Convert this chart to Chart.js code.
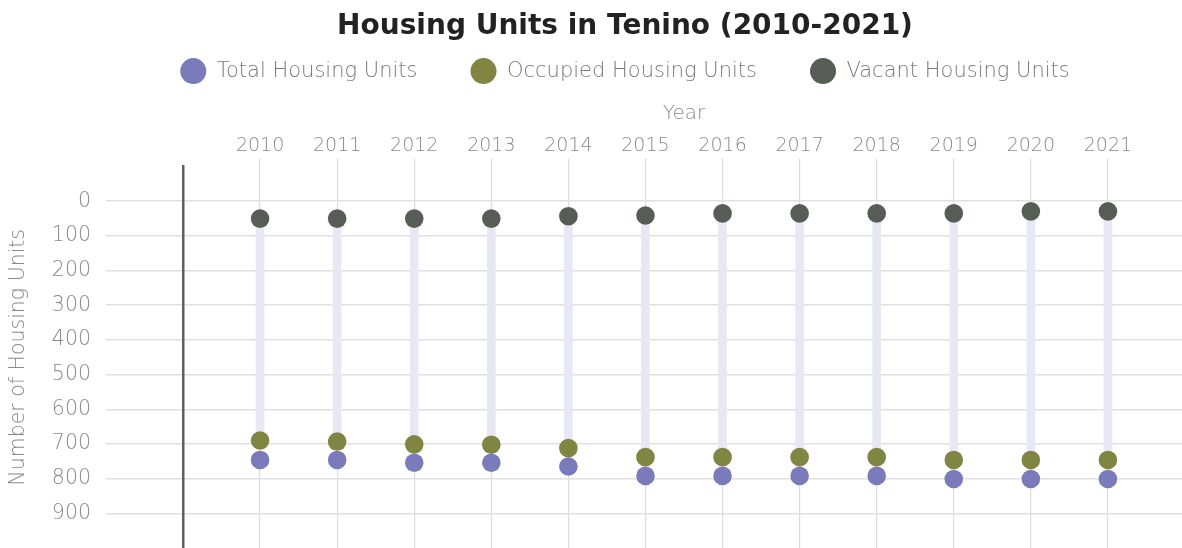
<!DOCTYPE html>
<html>
<head>
<meta charset="utf-8">
<title>Housing Units in Tenino (2010-2021)</title>
<script src="https://cdn.jsdelivr.net/npm/chart.js@4.4.1/dist/chart.umd.min.js"></script>
<style>
  html, body { margin: 0; padding: 0; overflow: hidden; background: #ffffff; }
  #wrap { width: 1182px; height: 548px; overflow: hidden; }
  canvas { display: block; }
</style>
</head>
<body>
<div id="wrap"><canvas id="chart" width="1250" height="548"></canvas></div>
<script>
// Housing units in Tenino, 2010-2021
const years = [2010, 2011, 2012, 2013, 2014, 2015, 2016, 2017, 2018, 2019, 2020, 2021];
const totalUnits    = [746, 746, 754, 754, 765, 792, 792, 792, 792, 801, 801, 801];
const occupiedUnits = [690, 693, 701, 702, 712, 738, 738, 738, 738, 746, 746, 746];
const vacantUnits   = [50, 50, 50, 50, 43, 41, 35, 35, 35, 35, 29, 29];
const yTickValues   = [0, 100, 200, 300, 400, 500, 600, 700, 800, 900];

const FONT = "'DejaVu Sans', 'Open Sans', sans-serif";
const TEXT_GREY = '#8a8a8a';
const LIGHT = { family: FONT, size: 19, weight: '200' };

const pts = (vals) => years.map((yr, i) => ({ x: yr, y: vals[i] }));
const span = years.map((yr, i) => ({ x: yr, y: [vacantUnits[i], occupiedUnits[i]] }));

function scatterSet(label, vals, color) {
  return {
    type: 'scatter',
    label,
    data: pts(vals),
    backgroundColor: color,
    borderColor: color,
    pointRadius: 9.3,
    pointHoverRadius: 9.3,
    borderWidth: 0,
    order: 1
  };
}

new Chart(document.getElementById('chart'), {
  type: 'scatter',
  data: {
    datasets: [
      scatterSet('Total Housing Units', totalUnits, '#7b7bbb'),
      scatterSet('Occupied Housing Units', occupiedUnits, '#808541'),
      scatterSet('Vacant Housing Units', vacantUnits, '#565d55'),
      {
        type: 'bar',
        label: 'range',
        data: span,
        backgroundColor: '#e8e8f4',
        borderWidth: 0,
        barThickness: 8,
        order: 10
      }
    ]
  },
  options: {
    responsive: false,
    animation: false,
    layout: { padding: 0, autoPadding: false },
    plugins: {
      title: {
        display: true,
        text: 'Housing Units in Tenino (2010-2021)',
        color: '#222222',
        font: { family: FONT, size: 28, weight: '700' },
        padding: { top: 10, bottom: -36 }
      },
      legend: {
        display: true,
        maxHeight: 83,
        labels: {
          usePointStyle: true,
          pointStyle: 'circle',
          boxHeight: 18.4,
          pointStyleWidth: 26,
          padding: 53,
          color: '#7a7a7a',
          font: { family: FONT, size: 21, weight: '200' },
          filter: (item) => item.datasetIndex !== 3
        }
      },
      tooltip: { enabled: false }
    },
    scales: {
      x: {
        type: 'linear',
        position: 'top',
        min: 2009,
        max: 2022,
        offset: false,
        afterBuildTicks: (scale) => {
          scale.ticks = years.map((v) => ({ value: v }));
        },
        afterFit: (scale) => {
          scale.height = 76;
          scale.paddingLeft = 0;
          scale.paddingRight = 0;
        },
        ticks: {
          color: TEXT_GREY,
          font: LIGHT,
          padding: 1,
          maxRotation: 0,
          autoSkip: false,
          callback: (v) => String(v)
        },
        grid: { color: '#dcdcdc', lineWidth: 1.2, tickLength: 8, offset: false },
        border: { display: false },
        title: {
          display: true,
          text: 'Year',
          color: TEXT_GREY,
          font: { family: FONT, size: 20, weight: '200' },
          padding: { top: 11, bottom: 0 }
        }
      },
      y: {
        type: 'linear',
        reverse: true,
        min: -100,
        max: 1000,
        afterBuildTicks: (scale) => {
          scale.ticks = yTickValues.map((v) => ({ value: v }));
        },
        afterFit: (scale) => {
          scale.width = 183;
          scale.paddingTop = 0;
          scale.paddingBottom = 0;
        },
        ticks: {
          color: TEXT_GREY,
          font: { family: FONT, size: 20.5, weight: '200' },
          padding: 15,
          callback: (v) => String(v)
        },
        grid: { color: '#e0e0e0', lineWidth: 1.6, tickLength: 77 },
        border: { display: true, color: '#5b605b', width: 2.5 },
        title: {
          display: true,
          text: 'Number of Housing Units',
          color: TEXT_GREY,
          font: { family: FONT, size: 20.5, weight: '200' },
          padding: { top: 6, bottom: 0 }
        }
      },
      // empty right-hand margin column
      yRight: {
        type: 'linear',
        position: 'right',
        display: true,
        afterFit: (scale) => {
          scale.width = 65;
          scale.paddingTop = 0;
          scale.paddingBottom = 0;
        },
        ticks: { display: false },
        grid: { display: false, drawTicks: false },
        border: { display: false }
      }
    }
  }
});
</script>
</body>
</html>
